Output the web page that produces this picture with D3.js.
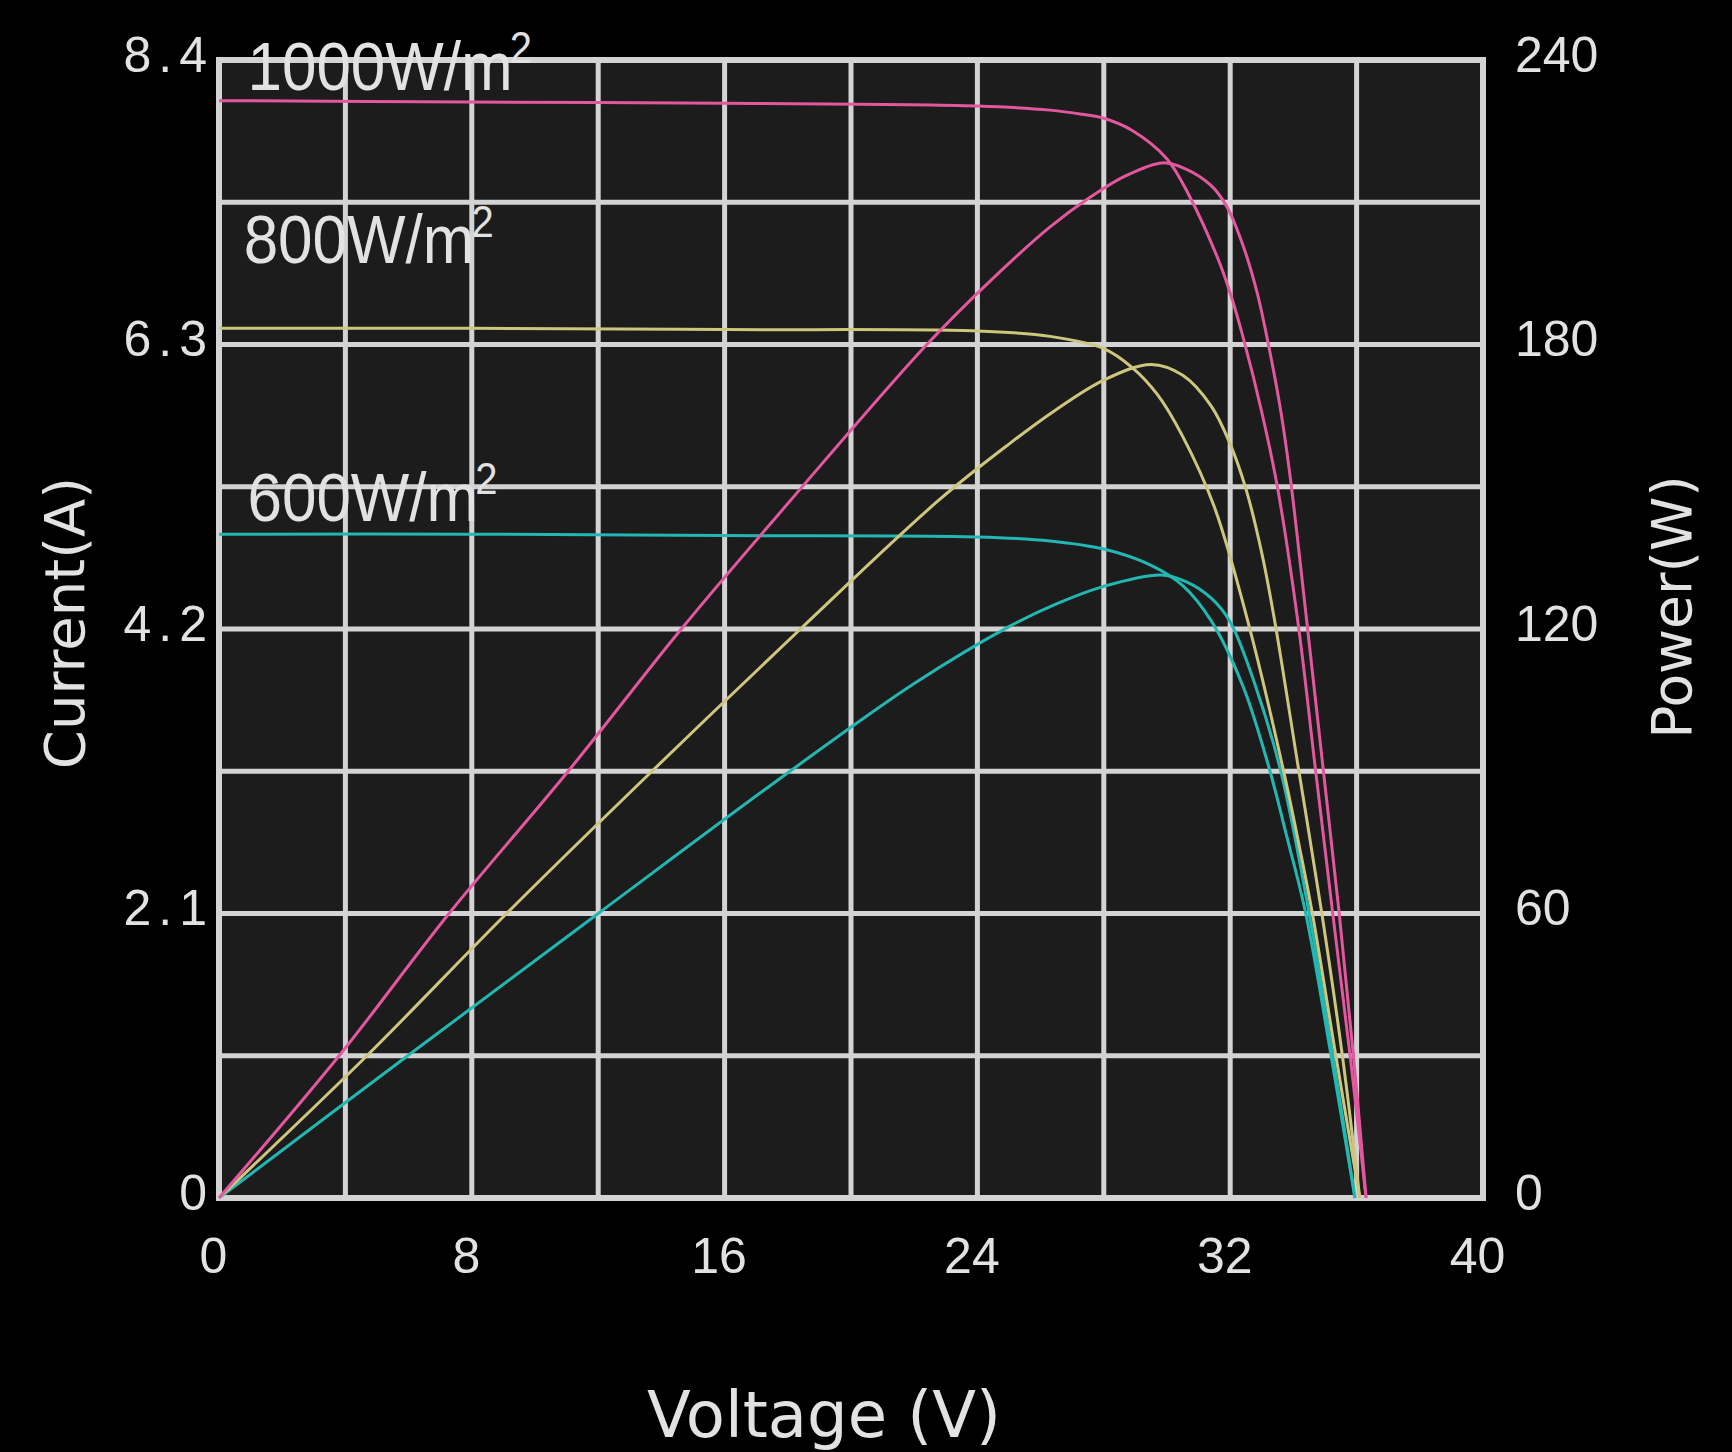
<!DOCTYPE html>
<html>
<head>
<meta charset="utf-8">
<script src="https://cdn.jsdelivr.net/npm/d3@7"></script>
<style>
  html, body { margin: 0; padding: 0; background: #000; }
  svg { display: block; }
</style>
</head>
<body>
<svg id="chart" width="1732" height="1452"></svg>
<script>
// ---------- data ----------
const voltageTicks = [0, 8, 16, 24, 32, 40];
const currentTicks = [0, 2.1, 4.2, 6.3, 8.4];
const powerTicks = [0, 60, 120, 180, 240];
const voltageGrid = [0, 4, 8, 12, 16, 20, 24, 28, 32, 36, 40];
const currentGrid = [0, 1.05, 2.1, 3.15, 4.2, 5.25, 6.3, 7.35, 8.4];

// I-V curves: [voltage (V), current (A)]
const iv1000 = [[0,8.10],[8,8.09],[16,8.08],[24,8.06],[26.3,8.03],[27.3,8.00],[28,7.97],[28.9,7.88],[30.0,7.67],[30.7,7.40],[31.6,6.94],[32.0,6.68],[32.4,6.36],[33.0,5.80],[33.5,5.24],[34.15,4.24],[34.7,3.16],[35.25,2.09],[35.8,1.04],[36.3,0]];
const iv800  = [[0,6.42],[8,6.42],[16,6.41],[24,6.40],[26.3,6.36],[28,6.27],[28.9,6.13],[29.7,5.93],[30.5,5.62],[31.5,5.10],[32.6,4.22],[33.7,3.14],[34.2,2.58],[34.6,2.10],[35.35,1.04],[36.1,0]];
const iv600  = [[0,4.90],[8,4.90],[16,4.89],[24,4.88],[26.3,4.85],[28,4.79],[29.5,4.67],[30.5,4.52],[31.4,4.26],[32.4,3.78],[33.2,3.20],[33.8,2.66],[34.4,2.09],[35.2,1.04],[35.95,0]];

// P-V curves: [voltage (V), power (W)]
const pv1000 = [[0,0],[3.8,30],[7.28,60],[11.05,90],[14.63,120],[18.07,147],[22.4,180],[24.5,194],[26.3,204.8],[27.6,211.2],[28.7,215.6],[29.85,218.3],[30.6,217],[31.4,213.5],[31.9,209],[32.4,201],[32.85,191],[33.2,180.3],[33.6,166],[33.9,152],[34.45,120],[34.95,90],[35.45,60],[35.9,30],[36.3,0]];
const pv800  = [[0,0],[4.68,30],[9.1,60],[13.7,90],[18.4,120],[22.75,147],[25,159],[26.5,166.3],[28,172.5],[29.5,175.8],[30.5,173.5],[31.4,167],[32.0,159],[32.5,149.5],[33.0,136],[33.4,122],[34.15,91],[34.9,60],[35.55,30],[36.1,0]];
const pv600  = [[0,0],[5.97,30],[12.0,60],[18.07,90],[22,108.5],[25,120.5],[26.5,125.3],[28,129],[29.8,131.4],[30.6,130],[31.4,126.5],[32.0,121.5],[32.8,108],[33.6,90],[34.5,60],[35.25,30],[35.95,0]];

const irradianceLabels = ["1000W/m", "800W/m", "600W/m"];
const labelVoltages = [0.9, 0.78, 0.9];
const labelCurrents = [8.18, 6.90, 5.00];
const seriesColors = ["#e2579e", "#cfc67e", "#22b7b2"];

// ---------- layout ----------
const plotLeft = 219, plotRight = 1483, plotTop = 60, plotBottom = 1198;
const svg = d3.select("#chart");

const x = d3.scaleLinear().domain([0, 40]).range([plotLeft, plotRight]);
const yI = d3.scaleLinear().domain([0, 8.4]).range([plotBottom, plotTop]);
const yP = d3.scaleLinear().domain([0, 240]).range([plotBottom, plotTop]);

const gridColor = "#d3d3d3";
const textColor = "#e2e2e2";

// plot background
svg.append("rect")
  .attr("x", x(0)).attr("y", yI(8.4))
  .attr("width", x(40) - x(0)).attr("height", yI(0) - yI(8.4))
  .attr("fill", "#1c1c1c");

// grid
const grid = svg.append("g");
grid.selectAll("line.v").data(voltageGrid).join("line")
  .attr("class", "v")
  .attr("x1", d => x(d)).attr("x2", d => x(d))
  .attr("y1", yI(0)).attr("y2", yI(8.4))
  .attr("stroke", gridColor).attr("stroke-width", 5);
grid.selectAll("line.h").data(currentGrid).join("line")
  .attr("class", "h")
  .attr("y1", d => yI(d)).attr("y2", d => yI(d))
  .attr("x1", x(0)).attr("x2", x(40))
  .attr("stroke", gridColor).attr("stroke-width", 5);
grid.append("rect")
  .attr("x", x(0)).attr("y", yI(8.4))
  .attr("width", x(40) - x(0)).attr("height", yI(0) - yI(8.4))
  .attr("fill", "none").attr("stroke", gridColor).attr("stroke-width", 6);

// curves
const curveType = d3.curveCatmullRom.alpha(0.5);
const lineI = d3.line().x(d => x(d[0])).y(d => yI(d[1])).curve(curveType);
const lineP = d3.line().x(d => x(d[0])).y(d => yP(d[1])).curve(curveType);
const ivSeries = [iv1000, iv800, iv600];
const pvSeries = [pv1000, pv800, pv600];
const curves = svg.append("g").attr("fill", "none").attr("stroke-width", 3);
[2, 1, 0].forEach(i => {
  curves.append("path").attr("d", lineP(pvSeries[i])).attr("stroke", seriesColors[i]);
  curves.append("path").attr("d", lineI(ivSeries[i])).attr("stroke", seriesColors[i]);
});

// axes (labels only)
const tickFont = "'Liberation Sans', Arial, sans-serif";
const axL = svg.append("g").attr("transform", `translate(${plotLeft},0)`)
  .call(d3.axisLeft(yI).tickValues(currentTicks).tickSize(0).tickPadding(5)
    .tickFormat(d => d === 0 ? "0" : d3.format(".1f")(d)));
const axR = svg.append("g").attr("transform", `translate(${plotRight},0)`)
  .call(d3.axisRight(yP).tickValues(powerTicks).tickSize(0).tickPadding(32).tickFormat(d3.format("d")));
const axB = svg.append("g").attr("transform", `translate(0,${plotBottom})`)
  .call(d3.axisBottom(x).tickValues(voltageTicks).tickSize(0).tickPadding(39).tickFormat(d3.format("d")));
[axL, axR, axB].forEach(a => {
  a.select(".domain").remove();
  a.selectAll("text").attr("fill", textColor)
    .style("font-family", tickFont).style("font-size", "50px");
});
axL.selectAll("text").style("letter-spacing", "7px").attr("dy", "0.22em");
axR.selectAll("text").attr("dy", "0.22em");
axB.selectAll("text").attr("x", -6);

// irradiance labels
const labels = svg.append("g").attr("fill", textColor)
  .style("font-family", tickFont);
irradianceLabels.forEach((t, i) => {
  const g = labels.append("g")
    .attr("transform", `translate(${x(labelVoltages[i])},${yI(labelCurrents[i])}) scale(1,1.1)`);
  const txt = g.append("text").style("font-size", "62px");
  txt.append("tspan").text(t);
  txt.append("tspan").text("2").style("font-size", "40px").attr("dx", -3).attr("dy", -24);
});

// axis titles
const titleFont = "'DejaVu Sans', Verdana, sans-serif";
svg.append("text").text("Current(A)")
  .attr("transform", "translate(84,623) rotate(-90)")
  .attr("text-anchor", "middle").attr("fill", textColor)
  .style("font-family", titleFont).style("font-size", "56px");
svg.append("text").text("Power(W)")
  .attr("transform", "translate(1691,607) rotate(-90)")
  .attr("text-anchor", "middle").attr("fill", textColor)
  .style("font-family", titleFont).style("font-size", "55px");
svg.append("text").text("Voltage (V)")
  .attr("x", 824).attr("y", 1437)
  .attr("text-anchor", "middle").attr("fill", textColor)
  .style("font-family", titleFont).style("font-size", "64px");
</script>
</body>
</html>
